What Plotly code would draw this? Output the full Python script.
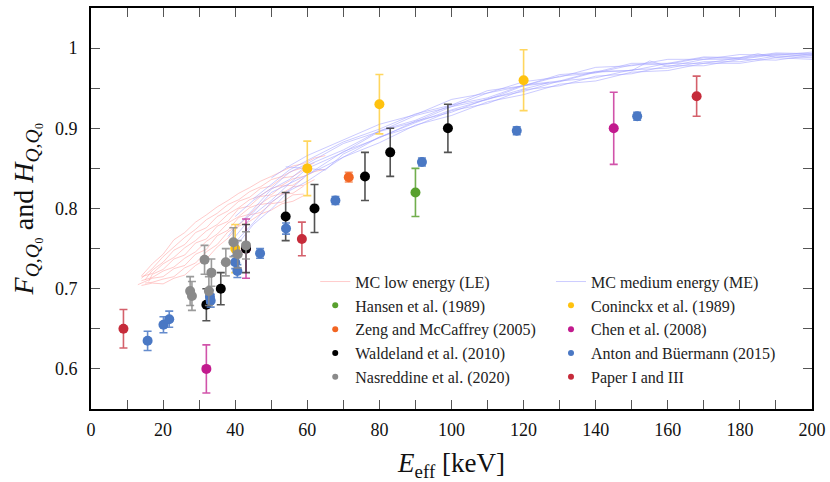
import plotly.graph_objects as go

# ---------------------------------------------------------------- data
# Monte Carlo curves, low-energy (LE) beam qualities
le_E = [
    [14, 17, 20, 23, 26, 29, 32, 35, 38, 41, 44, 47, 50, 53, 56, 59, 62, 65],
    [14, 17, 20, 23, 26, 29, 32, 35, 38, 41, 44, 47, 50, 53, 56, 59, 62],
    [15, 17, 20, 23, 26, 29, 32, 35, 38, 41, 44, 47, 50, 53, 56, 59],
    [14, 17, 20, 23, 26, 29, 32, 35, 38, 41, 44, 47, 50, 53, 56, 59, 62, 65],
    [16, 17, 20, 23, 26, 29, 32, 35, 38, 41, 44, 47, 50, 53, 56, 59],
    [14, 17, 20, 23, 26, 29, 32, 35, 38, 41, 44, 47, 50, 53, 56, 59, 62],
    [13, 17, 20, 23, 26, 29, 32, 35, 38, 41, 44, 47, 50, 53, 56, 59],
    [15, 17, 20, 23, 26, 29, 32, 35, 38, 41, 44, 47, 50, 53, 56, 59],
    [14, 17, 20, 23, 26, 29, 32, 35, 38, 41, 44, 47, 50, 53, 56, 59],
]
le_F = [
    [.716, .731, .743, .761, .770, .783, .792, .802, .810, .819, .826, .834, .840, .846, .853, .856, .863, .866],
    [.713, .725, .740, .752, .764, .774, .786, .794, .805, .811, .821, .827, .836, .840, .847, .851, .857],
    [.711, .723, .733, .748, .755, .770, .776, .790, .797, .809, .814, .825, .828, .838, .840, .848],
    [.715, .719, .731, .739, .751, .760, .772, .780, .793, .801, .811, .816, .825, .829, .837, .840, .846, .849],
    [.709, .718, .724, .737, .742, .757, .762, .778, .784, .800, .803, .815, .817, .828, .829, .838],
    [.710, .714, .722, .727, .738, .746, .759, .768, .782, .790, .801, .806, .815, .819, .827, .829, .836],
    [.705, .713, .715, .725, .729, .743, .749, .766, .773, .789, .793, .805, .807, .818, .819, .828],
    [.707, .708, .712, .715, .726, .732, .746, .755, .771, .779, .792, .795, .806, .808, .817, .818],
    [.704, .707, .706, .713, .717, .729, .737, .752, .763, .778, .784, .793, .798, .806, .809, .816],
]

# Monte Carlo curves, medium-energy (ME) beam qualities
me_E = [
    [50, 55, 60, 70, 80, 90, 100, 110, 120, 130, 140, 150, 160, 170, 180, 190, 200],
    [45, 50, 55, 60, 70, 80, 90, 100, 110, 120, 130, 140, 150, 160, 170, 180, 190, 200],
    [40, 45, 50, 55, 60, 70, 80, 90, 100, 110, 120, 130, 140, 150, 160, 170, 180, 190, 200],
    [42, 45, 50, 55, 60, 70, 80, 90, 100, 110, 120, 130, 140, 150, 155, 160, 170, 180, 190, 200],
    [38, 40, 45, 50, 55, 60, 70, 80, 90, 100, 110, 120, 130, 140, 150, 160, 170, 180, 185, 190, 200],
    [40, 45, 50, 55, 60, 70, 80, 90, 100, 110, 120, 130, 140, 150, 160, 170, 180, 190, 200],
    [40, 45, 50, 55, 60, 70, 80, 90, 100, 110, 120, 130, 140, 150, 160, 170, 180, 190, 200],
    [54, 60, 65, 70, 80, 90, 100, 110, 120, 127],
    [40, 45, 50, 55, 60, 70, 80, 90, 100, 110, 120, 130, 140, 150, 160, 170, 180, 190, 200],
]
me_F = [
    [.838, .853, .866, .885, .905, .917, .936, .944, .958, .964, .976, .978, .986, .986, .992, .991, .995],
    [.812, .830, .848, .860, .883, .899, .918, .929, .947, .953, .967, .970, .981, .981, .989, .988, .994, .993],
    [.790, .810, .825, .845, .856, .881, .896, .916, .927, .944, .953, .965, .969, .979, .980, .988, .987, .993, .992],
    [.785, .799, .824, .836, .854, .873, .897, .910, .929, .938, .954, .959, .971, .972, .984, .977, .986, .986, .992, .990],
    [.765, .777, .795, .820, .831, .850, .870, .896, .908, .927, .936, .953, .958, .970, .972, .981, .981, .988, .993, .988, .993],
    [.765, .792, .810, .831, .842, .871, .888, .909, .920, .937, .946, .959, .963, .973, .975, .983, .983, .990, .988],
    [.758, .782, .808, .823, .842, .864, .889, .903, .922, .931, .948, .953, .965, .968, .978, .978, .986, .985, .991],
    [.852, .850, .848, .868, .889, .907, .923, .936, .949, .957],
    [.752, .780, .799, .822, .834, .864, .882, .904, .916, .933, .942, .955, .959, .970, .972, .981, .981, .988, .986],
]

# Measurements: effective energy [keV], factor, uncertainty
hansen_E = [90]
hansen_F = [0.82]
hansen_err = [0.03]

coninckx_E = [40, 60, 80, 120]
coninckx_F = [0.75, 0.85, 0.93, 0.96]
coninckx_err = [0.03, 0.034, 0.037, 0.038]

zeng_E = [71.5]
zeng_F = [0.839]
zeng_err = [0.006]

chen_E = [32, 43, 145]
chen_F = [0.60, 0.75, 0.90]
chen_err = [0.03, 0.037, 0.045]

waldeland_E = [32, 36, 43, 54, 62, 76, 83, 99]
waldeland_F = [0.68, 0.70, 0.75, 0.79, 0.80, 0.84, 0.87, 0.90]
waldeland_err = [0.02, 0.02, 0.03, 0.03, 0.03, 0.03, 0.03, 0.03]

anton_E = [15.7, 20.1, 21.7, 33, 33.2, 40, 40.6, 46.9, 54.1, 67.8, 91.8, 118.1, 151.5]
anton_F = [0.635, 0.655, 0.662, 0.69, 0.685, 0.733, 0.722, 0.744, 0.775, 0.81, 0.858, 0.897, 0.915]
anton_err = [0.012, 0.01, 0.01, 0.008, 0.008, 0.008, 0.008, 0.006, 0.007, 0.005, 0.005, 0.005, 0.005]

nasreddine_E = [27.5, 28, 31.5, 32.7, 33.4, 37.4, 39.5, 40.7, 43]
nasreddine_F = [0.697, 0.691, 0.736, 0.697, 0.72, 0.733, 0.758, 0.743, 0.754]
nasreddine_err = [0.018, 0.018, 0.018, 0.018, 0.017, 0.017, 0.018, 0.017, 0.017]

paper_E = [9, 58.5, 168]
paper_F = [0.65, 0.762, 0.94]
paper_err = [0.024, 0.021, 0.025]

x_ticks = [0, 20, 40, 60, 80, 100, 120, 140, 160, 180, 200]
y_ticks = [0.6, 0.7, 0.8, 0.9, 1.0]
y_tick_text = ["0.6", "0.7", "0.8", "0.9", "1"]

# ---------------------------------------------------------------- styles
FONT = "Liberation Serif, DejaVu Serif, serif"
LE_COLOR = "rgba(255, 160, 160, 0.55)"
ME_COLOR = "rgba(160, 160, 255, 0.55)"

fig = go.Figure()

for i, (xs, ys) in enumerate(zip(le_E, le_F)):
    fig.add_trace(go.Scatter(
        x=xs, y=ys, mode="lines", line=dict(color=LE_COLOR, width=1),
        name="MC low energy (LE)", legendgroup="le", showlegend=(i == 0),
        legend="legend", hoverinfo="skip"))

for i, (xs, ys) in enumerate(zip(me_E, me_F)):
    fig.add_trace(go.Scatter(
        x=xs, y=ys, mode="lines", line=dict(color=ME_COLOR, width=1),
        name="MC medium energy (ME)", legendgroup="me", showlegend=(i == 0),
        legend="legend2", hoverinfo="skip"))

# (name, x, y, err, marker colour, error-bar colour, legend)
series = [
    ("Hansen et al. (1989)", hansen_E, hansen_F, hansen_err, "#58a02e", "rgba(88,160,46,0.85)", "legend"),
    ("Coninckx et al. (1989)", coninckx_E, coninckx_F, coninckx_err, "#ffc20e", "rgba(255,200,40,0.75)", "legend2"),
    ("Zeng and McCaffrey (2005)", zeng_E, zeng_F, zeng_err, "#f26522", "rgba(242,101,34,0.7)", "legend"),
    ("Chen et al. (2008)", chen_E, chen_F, chen_err, "#c21a8e", "rgba(194,26,142,0.75)", "legend2"),
    ("Waldeland et al. (2010)", waldeland_E, waldeland_F, waldeland_err, "#000000", "rgba(40,40,40,0.8)", "legend"),
    ("Anton and Büermann (2015)", anton_E, anton_F, anton_err, "#4a78c4", "rgba(74,120,196,0.85)", "legend2"),
    ("Nasreddine et al. (2020)", nasreddine_E, nasreddine_F, nasreddine_err, "#8a8a8a", "rgba(138,138,138,0.85)", "legend"),
    ("Paper I and III", paper_E, paper_F, paper_err, "#c62b3a", "rgba(198,43,58,0.75)", "legend2"),
]

for name, xs, ys, err, col, ecol, leg in series:
    fig.add_trace(go.Scatter(
        x=xs, y=ys, mode="markers", name=name, showlegend=False,
        marker=dict(color=col, size=10, line=dict(width=0)),
        error_y=dict(type="data", array=err, visible=True, color=ecol,
                     thickness=1.6, width=4)))

# small dots as legend keys
legend_order = [0, 2, 4, 6, 1, 3, 5, 7]
for idx in legend_order:
    name, xs, ys, err, col, ecol, leg = series[idx]
    fig.add_trace(go.Scatter(
        x=[None], y=[None], mode="markers", name=name, legend=leg,
        marker=dict(color=col, size=6)))

axis_common = dict(
    showline=True, linecolor="black", linewidth=2, mirror="ticks",
    ticks="inside", ticklen=9, tickwidth=1, tickcolor="#555555",
    showgrid=False, zeroline=False,
    tickfont=dict(family=FONT, size=18, color="#111111"),
)

fig.update_xaxes(
    range=[0, 200], tickvals=x_ticks,
    minor=dict(dtick=10, ticks="inside", ticklen=9, tickcolor="#555555", tickwidth=1, showgrid=False),
    ticklabelstandoff=3,
    title=dict(text="<i>E</i><sub>eff</sub> [keV]", font=dict(family=FONT, size=27, color="#111111"), standoff=21),
    **axis_common)
fig.update_yaxes(
    range=[0.55, 1.05], tickvals=y_ticks, ticktext=y_tick_text,
    minor=dict(dtick=0.05, tick0=0, ticks="inside", ticklen=9, tickcolor="#555555", tickwidth=1, showgrid=False),
    ticklabelstandoff=8,
    title=dict(text="<i>F</i><sub><i>Q</i>,<i>Q</i>₀</sub> and <i>H</i><sub><i>Q</i>,<i>Q</i>₀</sub>",
               font=dict(family=FONT, size=28, color="#111111"), standoff=13),
    **axis_common)

legend_common = dict(
    orientation="v", xanchor="left", yanchor="top", y=0.36,
    bgcolor="rgba(0,0,0,0)", borderwidth=0,
    font=dict(family=FONT, size=16, color="#222222"),
    itemsizing="trace", tracegroupgap=0,
)

fig.update_layout(
    width=830, height=482,
    margin=dict(l=91, r=18, t=8, b=73, autoexpand=False),
    paper_bgcolor="white", plot_bgcolor="white",
    font=dict(family=FONT),
    legend=dict(x=0.311, **legend_common),
    legend2=dict(x=0.638, **legend_common),
)

fig.write_html("out.html")
